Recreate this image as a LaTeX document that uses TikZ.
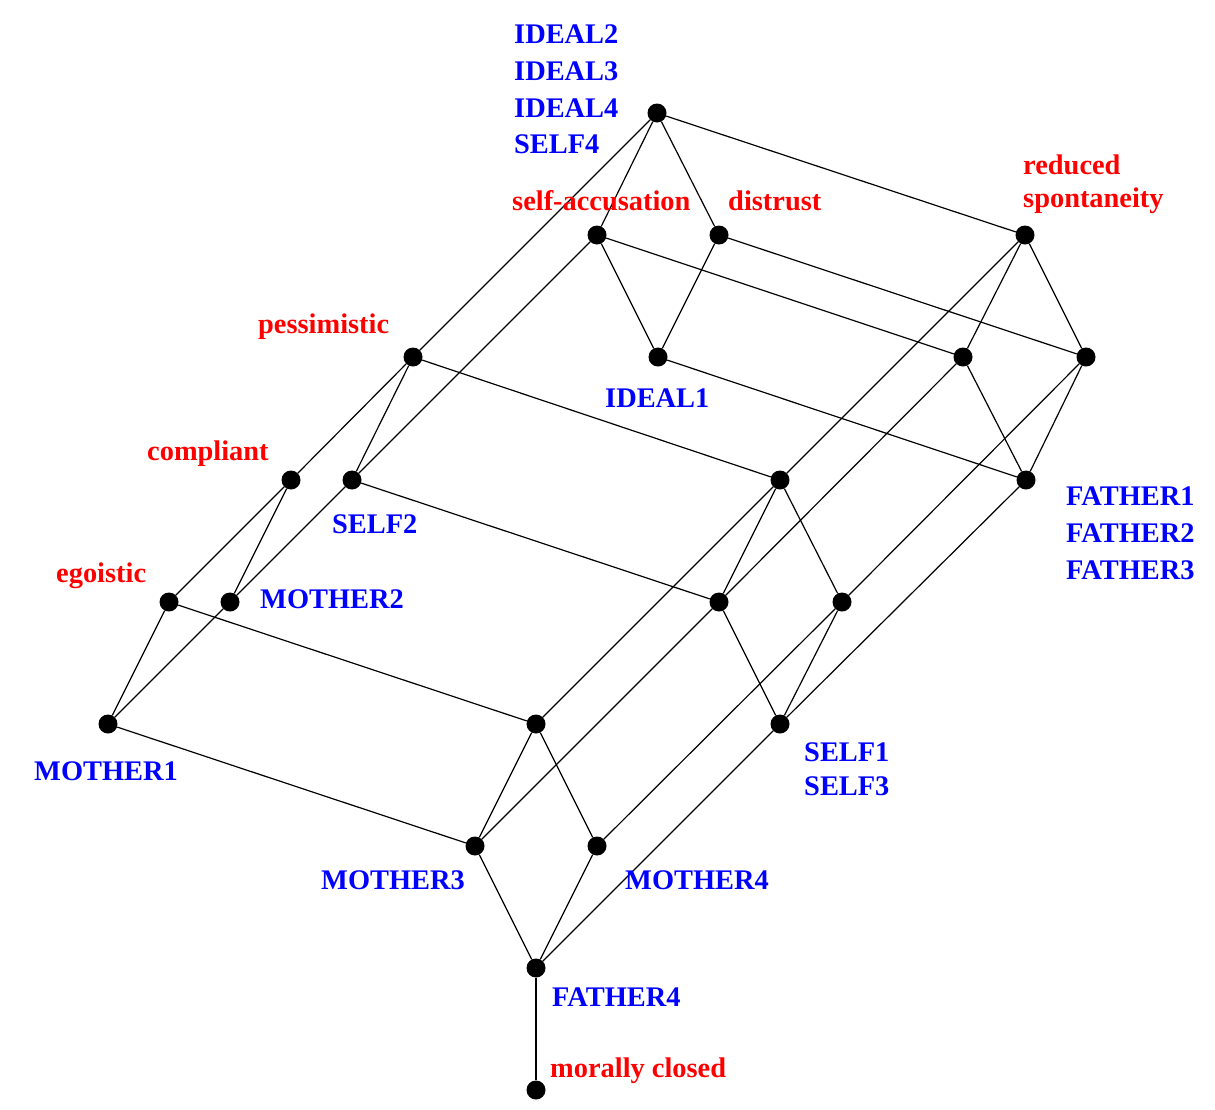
\documentclass[tikz,border=0pt]{standalone}
\usepackage{fontspec}
\setmainfont{Liberation Serif}
\begin{document}
\begin{tikzpicture}[x=1pt,y=-1pt,
  dot/.style={circle,fill=black,inner sep=0pt,minimum size=19pt},
  edge/.style={line width=1.2pt},
  lab/.style={font=\fontsize{28.4}{36}\selectfont\bfseries,anchor=base west,inner sep=0pt},
  attr/.style={lab,text=red},
  obj/.style={lab,text=blue}]
\useasboundingbox[fill=white] (0,0) rectangle (1215,1109);
% concepts
\node[dot] (T)  at (657,113) {};
\node[dot] (SA) at (597,235) {};
\node[dot] (D)  at (719,235) {};
\node[dot] (RS) at (1025,235) {};
\node[dot] (P)  at (413,357) {};
\node[dot] (I1) at (658,357) {};
\node[dot] (N1) at (963,357) {};
\node[dot] (N2) at (1086,357) {};
\node[dot] (C)  at (291,480) {};
\node[dot] (S2) at (352,480) {};
\node[dot] (N3) at (780,480) {};
\node[dot] (F1) at (1026,480) {};
\node[dot] (E)  at (169,602) {};
\node[dot] (M2) at (230,602) {};
\node[dot] (N4) at (719,602) {};
\node[dot] (N5) at (842,602) {};
\node[dot] (M1) at (108,724) {};
\node[dot] (N6) at (536,724) {};
\node[dot] (S1) at (780,724) {};
\node[dot] (M3) at (475,846) {};
\node[dot] (M4) at (597,846) {};
\node[dot] (F4) at (536,968) {};
\node[dot] (B)  at (536,1090) {};
% edges
\foreach \a/\b in {T/SA,T/D,T/RS,T/P,SA/I1,SA/N1,SA/S2,D/I1,D/N2,RS/N1,RS/N2,RS/N3,
  P/C,P/S2,P/N3,I1/F1,N1/F1,N1/N4,N2/F1,N2/N5,C/E,C/M2,S2/M2,S2/N4,
  N3/N4,N3/N5,N3/N6,F1/S1,E/M1,E/N6,M2/M1,N4/S1,N4/M3,N5/S1,N5/M4,
  M1/M3,N6/M3,N6/M4,S1/F4,M3/F4,M4/F4,F4/B}
  \draw[edge] (\a) -- (\b);
% labels
\node[obj] (lI2) at (514,43) {IDEAL2};
\node[obj] (lI3) at (514,80) {IDEAL3};
\node[obj] (lI4) at (514,117) {IDEAL4};
\node[obj] (lS4) at (514,153) {SELF4};
\node[attr] (lSA) at (512,210) {self-accusation};
\node[attr] (lD) at (728,210) {distrust};
\node[attr] (lRS1) at (1023,174) {reduced};
\node[attr] (lRS2) at (1023,207) {spontaneity};
\node[attr] (lP) at (258,333) {pessimistic};
\node[obj] (lI1) at (605,407) {IDEAL1};
\node[attr] (lC) at (147,460) {compliant};
\node[obj] (lS2) at (332,533) {SELF2};
\node[obj] (lF1) at (1066,505) {FATHER1};
\node[obj] (lF2) at (1066,542) {FATHER2};
\node[obj] (lF3) at (1066,579) {FATHER3};
\node[attr] (lE) at (56,582) {egoistic};
\node[obj] (lM2) at (260,608) {MOTHER2};
\node[obj] (lM1) at (34,780) {MOTHER1};
\node[obj] (lS1) at (804,761) {SELF1};
\node[obj] (lS3) at (804,795) {SELF3};
\node[obj] (lM3) at (321,889) {MOTHER3};
\node[obj] (lM4) at (625,889) {MOTHER4};
\node[obj] (lF4) at (552,1006) {FATHER4};
\node[attr] (lB) at (550,1077) {morally closed};
\end{tikzpicture}
\end{document}
